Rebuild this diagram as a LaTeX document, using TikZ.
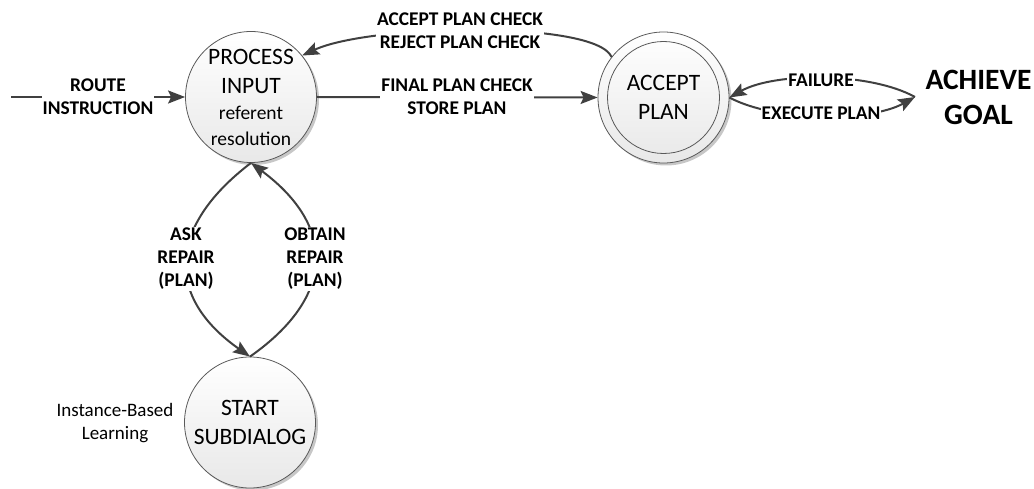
\documentclass[tikz,border=0pt]{standalone}
\usepackage{fontspec}
\setmainfont{Carlito}
\usetikzlibrary{arrows.meta,shadows}
\definecolor{arr}{HTML}{404040}
\definecolor{cline}{HTML}{595959}
\begin{document}
\begin{tikzpicture}[x=1pt,y=-1pt,
  state/.style={circle, draw=cline, line width=0.8pt, minimum size=131pt, inner sep=-14pt,
    top color=white, bottom color=black!9,
    drop shadow={shadow xshift=2.5pt, shadow yshift=-2.5pt, opacity=0.22, fill=black},
    align=center, font=\fontsize{23.5}{29}\selectfont},
  ring/.style={draw=cline, line width=0.8pt},
  conn/.style={draw=arr, line width=2pt, -{Stealth[length=17pt,width=13pt,inset=3pt]}},
  lbl/.style={fill=white, inner sep=1pt, align=center, font=\bfseries\fontsize{19.4}{23}\selectfont},
  small/.style={align=center, font=\fontsize{19}{23}\selectfont},
  goalstyle/.style={align=center, font=\bfseries\fontsize{29.5}{35}\selectfont},
]
\useasboundingbox (0,0) rectangle (1034,489);

% states
\node[state] (proc) at (251,97) {PROCESS\\INPUT\\[-3pt]{\fontsize{19.5}{23}\selectfont referent}\\[-3pt]{\fontsize{19.5}{23}\selectfont resolution}};
\node[state] (acc) at (663.5,97.5) {ACCEPT\\PLAN};
\draw[ring] (acc.center) circle[radius=56];
\node[state] (sub) at (250,422.5) {START\\SUBDIALOG};
\node[goalstyle] (goal) at (978.5,97.5) {ACHIEVE\\GOAL};
\node[small] (ibl) at (115,423.5) {Instance-Based\\Learning};

\coordinate (rin) at (11,97);
\coordinate (gin) at (915,97);

% connectors
\draw[conn] (rin) -- (proc.west);
\draw[conn] (proc.east) -- (acc.west);
\draw[conn] (acc.142) .. controls (595,20) and (370,24) .. (proc.39);
\draw[conn] (gin) .. controls (870,72) and (775,72) .. (acc.east);
\draw[conn] (acc.east) .. controls (775,122) and (870,122) .. (gin);
\draw[conn] (proc.south) .. controls (167,227) and (165,297) .. (sub.north);
\draw[conn] (sub.north) .. controls (335,297) and (337,227) .. (proc.south);

% labels
\node[lbl] (l1) at (98,96.5) {ROUTE\\INSTRUCTION};
\node[lbl] (l2) at (457,96.5) {FINAL PLAN CHECK\\STORE PLAN};
\node[lbl] (l3) at (460,30.5) {ACCEPT PLAN CHECK\\REJECT PLAN CHECK};
\node[lbl] (l4) at (821,80.5) {FAILURE};
\node[lbl] (l5) at (821,113.5) {EXECUTE PLAN};
\node[lbl] (l6) at (186,259) {ASK\\REPAIR\\(PLAN)};
\node[lbl] (l7) at (315,259) {OBTAIN\\REPAIR\\(PLAN)};
\end{tikzpicture}
\end{document}
